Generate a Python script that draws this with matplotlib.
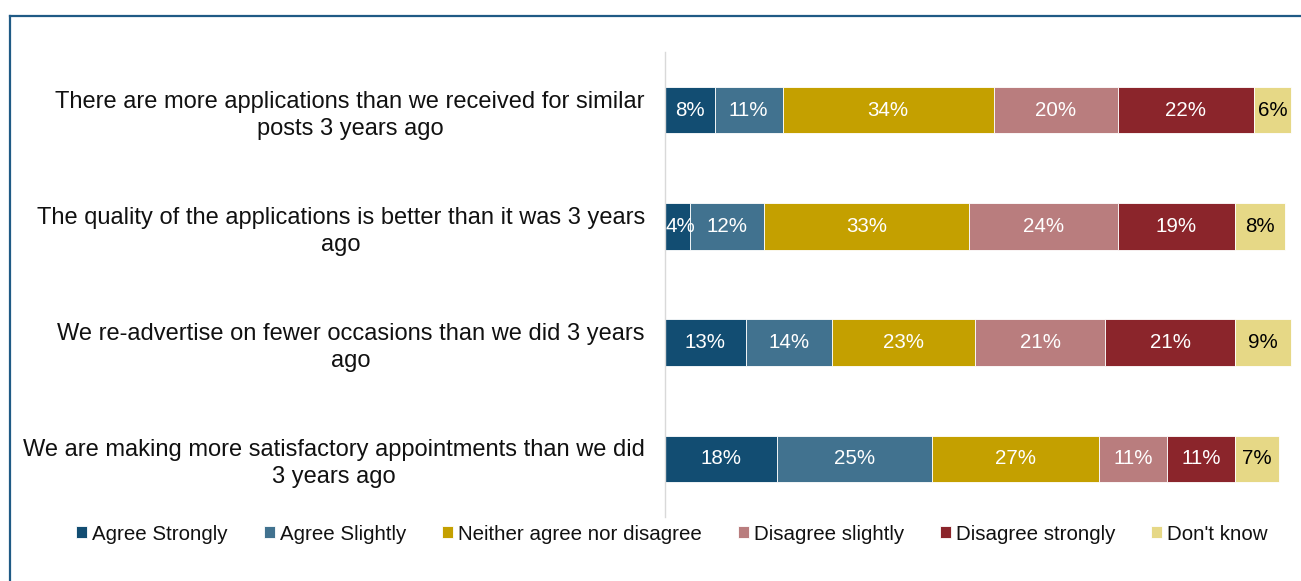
import matplotlib
matplotlib.use("Agg")
import matplotlib.pyplot as plt
from matplotlib.lines import Line2D
import numpy as np

categories = [
    "There are more applications than we received for similar\nposts 3 years ago",
    "The quality of the applications is better than it was 3 years\nago",
    "We re-advertise on fewer occasions than we did 3 years\nago",
    "We are making more satisfactory appointments than we did\n3 years ago",
]
series_names = ["Agree Strongly", "Agree Slightly", "Neither agree nor disagree",
                "Disagree slightly", "Disagree strongly", "Don't know"]
agree_strongly = [8, 4, 13, 18]
agree_slightly = [11, 12, 14, 25]
neither = [34, 33, 23, 27]
disagree_slightly = [20, 24, 21, 11]
disagree_strongly = [22, 19, 21, 11]
dont_know = [6, 8, 9, 7]

series = [agree_strongly, agree_slightly, neither, disagree_slightly, disagree_strongly, dont_know]
colors = ["#124D72", "#41728F", "#C4A000", "#B97D7E", "#8B252B", "#E6D886"]
label_colors = ["white", "white", "white", "white", "white", "black"]

plt.rcParams['font.family'] = ['Liberation Sans', 'DejaVu Sans']
FS = 14.8
FS_CAT = 17.0

W, H = 1301, 581
fig = plt.figure(figsize=(W / 100, H / 100), dpi=100)
ax = fig.add_axes([665 / W, 1 - 517 / H, 620 / W, 465 / H])

y = np.arange(len(categories))
left = np.zeros(len(categories))
for vals, col, lc, name in zip(series, colors, label_colors, series_names):
    ax.barh(y, vals, left=left, height=0.4, color=col, edgecolor="white",
            linewidth=0.6, label=name, clip_on=False)
    for yi, l, v in zip(y, left, vals):
        xc = l + v / 2
        if v < 5:
            xc = l + 2.4
        ax.text(xc, yi, f"{v}%", ha="center", va="center", color=lc, fontsize=FS)
    left += np.array(vals)

ax.set_xlim(0, 100)
ax.set_ylim(len(categories) - 0.5, -0.5)
ax.set_yticks(y)
ax.set_yticklabels(categories, fontsize=FS_CAT, multialignment="center", color="#111111",
                   linespacing=1.3)
ax.tick_params(axis="y", length=0, pad=14.5)
ax.set_xticks([])
for s in ["top", "right", "bottom"]:
    ax.spines[s].set_visible(False)
ax.spines["left"].set_color("#D9D9D9")
ax.spines["left"].set_linewidth(1.0)

leg = fig.legend(loc="center", bbox_to_anchor=(672 / W, 1 - 534 / H), ncol=6,
                 frameon=False, fontsize=FS, handlelength=0.53, handleheight=0.53,
                 handletextpad=0.25, columnspacing=1.75, borderaxespad=0)
for t in leg.get_texts():
    t.set_color("#111111")

frame_col = "#1F5A85"
fig.add_artist(Line2D([9.5 / W, 1.0], [1 - 15.8 / H, 1 - 15.8 / H], color=frame_col,
                      linewidth=1.6, transform=fig.transFigure))
fig.add_artist(Line2D([9.5 / W, 9.5 / W], [0, 1 - 15.8 / H], color=frame_col,
                      linewidth=1.6, transform=fig.transFigure))

fig.savefig("out.png", dpi=100)
